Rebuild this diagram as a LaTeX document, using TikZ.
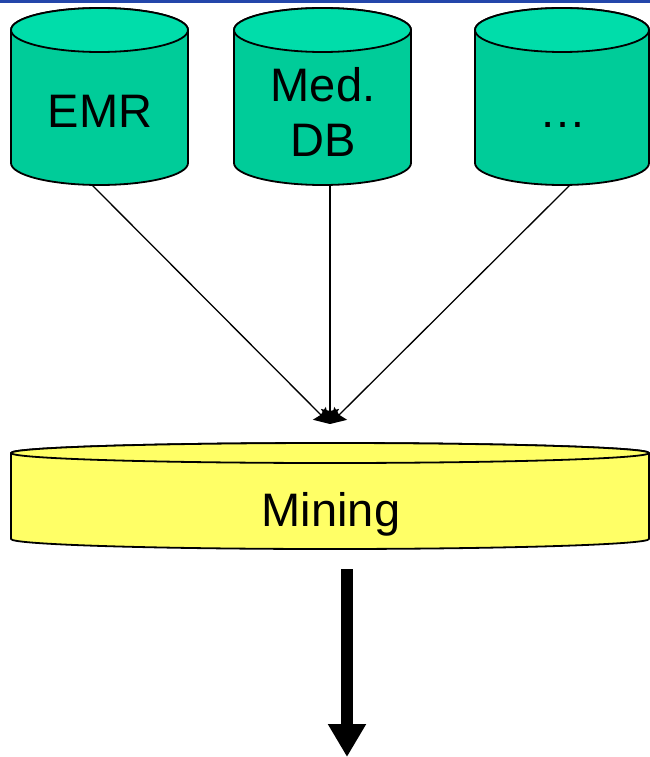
\documentclass[tikz,border=0pt]{standalone}
\usepackage{fontspec}
\setmainfont{Liberation Sans}
\usetikzlibrary{arrows.meta}
\definecolor{dbbody}{RGB}{0,204,153}
\definecolor{dbtop}{RGB}{0,221,170}
\definecolor{minebody}{RGB}{255,255,102}
\definecolor{topbar}{RGB}{35,70,170}
\tikzset{
  outline/.style={draw=black, line width=1.8pt, line join=round},
  bigtext/.style={font=\fontsize{47}{55}\selectfont, inner sep=0pt},
  feed/.style={draw=black, line width=1.3pt, -{Stealth[length=15pt,width=18pt,inset=2pt]}},
  result/.style={draw=black, line width=12pt, -{Triangle[length=33pt,width=36pt]}}
}
% #1 cx, #2 top y, #3 bottom y, #4 rx, #5 ry, #6 body colour, #7 top colour
\newcommand\cylshape[7]{%
  \path[outline, fill=#6] (#1-#4,#2) -- (#1-#4,#3)
     arc[start angle=180, end angle=360, x radius=#4, y radius=-#5]
     -- (#1+#4,#2) arc[start angle=0, end angle=180, x radius=#4, y radius=-#5] -- cycle;
  \path[outline, fill=#7] (#1,#2) ellipse[x radius=#4, y radius=#5];
}
\begin{document}
\begin{tikzpicture}[x=1pt,y=-1pt]
\useasboundingbox (0,0) rectangle (650,757);
\fill[white] (0,0) rectangle (650,757);
\fill[topbar] (0,0) rectangle (650,3);
% databases
\cylshape{99.5}{30}{163}{88.5}{22}{dbbody}{dbtop}
\cylshape{322.5}{30}{163}{88.5}{22}{dbbody}{dbtop}
\cylshape{562}{30}{163}{87}{22}{dbbody}{dbtop}
\node[bigtext, anchor=base] (emr) at (100,128) {EMR};
\node[bigtext, align=center] (meddb) at (323,112) {Med.\\DB};
\node[bigtext, anchor=base] (more) at (563,128) {…};
% mining
\cylshape{330}{453}{539}{319}{10}{minebody}{minebody}
\node[bigtext, anchor=base] (mining) at (331,526) {Mining};
% connectors
\coordinate (s1) at (92,185);
\coordinate (s2) at (330,185);
\coordinate (s3) at (570,185);
\coordinate (hub) at (330,424);
\draw[feed] (s1) -- (hub);
\draw[feed] (s2) -- (hub);
\draw[feed] (s3) -- (hub);
\coordinate (outtop) at (347,569);
\coordinate (outtip) at (347,757);
\draw[result] (outtop) -- (outtip);
\end{tikzpicture}
\end{document}
